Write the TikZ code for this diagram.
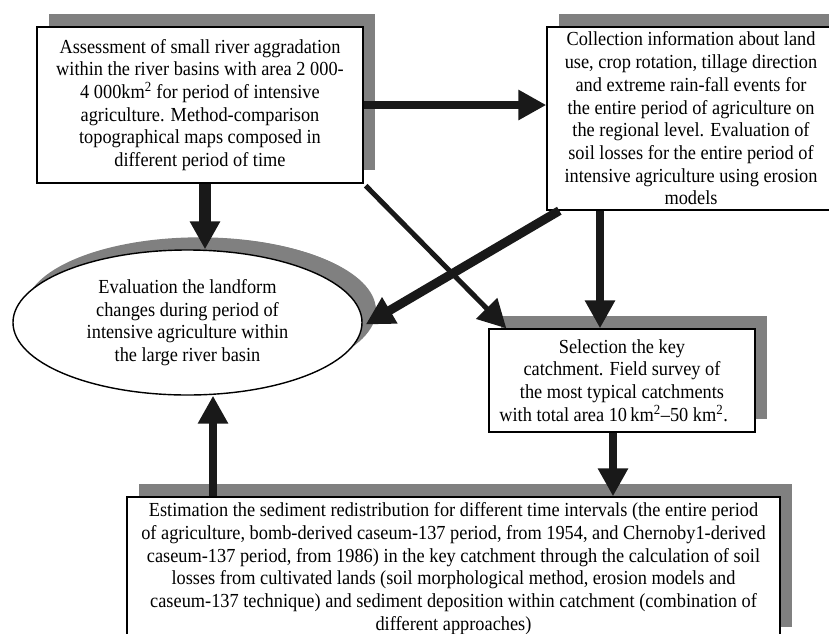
\documentclass[tikz,border=0pt]{standalone}
\usepackage{fontspec}
\setmainfont{Liberation Serif}[FakeStretch=0.92]
\usetikzlibrary{arrows.meta,shapes.geometric,shadows}
\tikzset{
  stepbox/.style={draw=black, line width=1.2pt, fill=white, align=center, inner sep=0pt,
    font=\fontsize{17}{19.4}\selectfont,
    drop shadow={shadow xshift=0.36cm, shadow yshift=0.38cm, fill=black!50, opacity=1}},
  resultoval/.style={stepbox, ellipse,
    drop shadow={shadow xshift=0.42cm, shadow yshift=0.36cm, fill=black!50, opacity=1}},
  link/.style={draw=black!90, line cap=butt, -{Triangle[length=0.84cm,width=0.86cm]}},
}

\begin{document}
\begin{tikzpicture}[x=0.03cm, y=-0.03cm]
\useasboundingbox (0,0) rectangle (829,633);
\clip (0,0) rectangle (829,633);
\node[stepbox, minimum width=9.78cm, minimum height=4.68cm] (A) at (200,105)
  {Assessment of small river aggradation\\ within the river basins with area 2 000-\\
   4 000km\textsuperscript{2} for period of intensive\\ agriculture. Method-comparison\\
   topographical maps composed in\\ different period of time};
\node[stepbox, minimum width=8.64cm, minimum height=5.49cm] (B) at (691,118.5)
  {Collection information about land\\ use, crop rotation, tillage direction\\
   and extreme rain-fall events for\\ the entire period of agriculture on\\
   the regional level. Evaluation of\\ soil losses for the entire period of\\
   intensive agriculture using erosion\\ models};
\node[resultoval, minimum width=10.47cm, minimum height=4.35cm] (E) at (187.5,322.5)
  {Evaluation the landform\\ changes during period of\\ intensive agriculture within\\ the large river basin};
\node[stepbox, minimum width=7.98cm, minimum height=3.09cm] (C) at (622,380.5)
  {Selection the key\\ catchment. Field survey of\\ the most typical catchments\\
   with total area 10\,km\textsuperscript{2}--50 km\textsuperscript{2}.\hspace*{0.5cm}};
\node[stepbox, minimum width=19.59cm, minimum height=4.29cm] (D) at (453.5,568.5)
  {Estimation the sediment redistribution for different time intervals (the entire period\\
   of agriculture, bomb-derived caseum-137 period, from 1954, and Chernoby1-derived\\
   caseum-137 period, from 1986) in the key catchment through the calculation of soil\\
   losses from cultivated lands (soil morphological method, erosion models and\\
   caseum-137 technique) and sediment deposition within catchment (combination of\\
   different approaches)};
\draw[link, line width=6pt] (A.east) -- (A.east -| B.west);
\draw[link, line width=9.4pt] (A.south -| 205,0) -- (E.north -| 205,0);
\draw[link, line width=4.3pt] ([shift={(2,2)}]A.south east) -- ([shift={(18,0)}]C.north west);
\draw[link, line width=7.7pt] ([shift={(13,0)}]B.south west) -- ([shift={(3,2)}]E.east);
\draw[link, line width=6pt] (B.south -| 600,0) -- (C.north -| 600,0);
\draw[link, line width=6.8pt] (C.south -| 613,0) -- (D.north -| 613,0);
\draw[link, line width=6pt] (D.north -| 213,0) -- (E.south -| 213,0);
\end{tikzpicture}
\end{document}
